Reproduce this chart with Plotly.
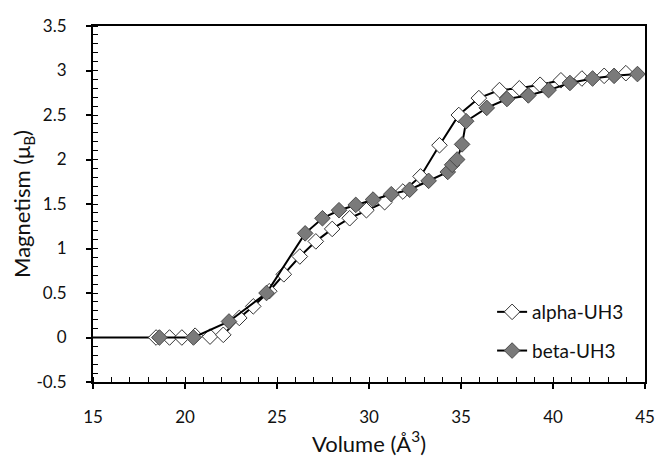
import plotly.graph_objects as go

# ---- data ----
alpha_x = [18.43, 19.16, 19.83, 20.55, 21.36, 22.08, 22.95, 23.71, 24.58, 25.37,
           26.24, 27.11, 28.00, 28.95, 29.86, 30.85, 31.84, 32.80, 33.83, 34.88,
           35.97, 37.09, 38.17, 39.30, 40.43, 41.57, 42.78, 43.96]
alpha_y = [0.00, 0.00, 0.00, 0.02, 0.01, 0.03, 0.22, 0.35, 0.52, 0.71,
           0.91, 1.08, 1.22, 1.34, 1.43, 1.52, 1.64, 1.81, 2.16, 2.50,
           2.69, 2.78, 2.80, 2.84, 2.89, 2.91, 2.94, 2.97]

beta_x = [18.61, 20.46, 22.39, 24.43, 26.53, 27.47, 28.37, 29.28, 30.22, 31.21,
          32.21, 33.24, 34.28, 34.52, 34.79, 35.06, 35.28, 36.40, 37.50, 38.66,
          39.76, 40.92, 42.15, 43.32, 44.59]
beta_y = [0.00, 0.00, 0.18, 0.50, 1.17, 1.34, 1.43, 1.49, 1.55, 1.61,
          1.66, 1.76, 1.86, 1.94, 2.00, 2.17, 2.43, 2.58, 2.68, 2.72,
          2.78, 2.86, 2.91, 2.94, 2.96]

baseline_x = [15, 18.43]
baseline_y = [0, 0]

x_ticks = [15, 20, 25, 30, 35, 40, 45]
x_ticktext = ["15", "20", "25", "30", "35", "40", "45"]
y_ticks = [-0.5, 0, 0.5, 1, 1.5, 2, 2.5, 3, 3.5]
y_ticktext = ["-0.5", "0", "0.5", "1", "1.5", "2", "2.5", "3", "3.5"]

FONT = "Lato, 'Open Sans', sans-serif"

fig = go.Figure()
fig.add_trace(go.Scatter(x=baseline_x, y=baseline_y, mode="lines",
                         line=dict(color="black", width=2), showlegend=False,
                         hoverinfo="skip"))
fig.add_trace(go.Scatter(x=alpha_x, y=alpha_y, mode="lines+markers", name="alpha-UH3",
                         legendgroup="a",
                         line=dict(color="black", width=2),
                         marker=dict(symbol="diamond", size=12, color="white",
                                     line=dict(color="#333333", width=1))))
fig.add_trace(go.Scatter(x=beta_x, y=beta_y, mode="lines+markers", name="beta-UH3",
                         legendgroup="b",
                         line=dict(color="black", width=2),
                         marker=dict(symbol="diamond", size=12, color="#7a7a7a",
                                     line=dict(color="#4a4a4a", width=1))))

axis_common = dict(showgrid=False, zeroline=False, showline=True, linecolor="black",
                   linewidth=2, mirror=True, ticks="outside", ticklen=5, tickwidth=1.5,
                   tickcolor="black", ticklabeloverflow="allow",
                   tickfont=dict(family=FONT, size=17, color="#111"))

# the page body has an 8px margin, so the figure is sized/offset to compensate
fig.update_layout(
    width=660, height=449,
    paper_bgcolor="white", plot_bgcolor="white",
    margin=dict(l=85, r=23, t=7, b=75),
    font=dict(family=FONT, color="#111"),
    xaxis=dict(range=[15, 45], tickvals=x_ticks, ticktext=x_ticktext,
               ticklabelstandoff=14,
               title=dict(text="Volume (Å<sup>3</sup>)", font=dict(family=FONT, size=22), standoff=6),
               minor=dict(dtick=1, ticks="inside", ticklen=5, tickwidth=1, tickcolor="black"),
               **axis_common),
    yaxis=dict(range=[-0.5, 3.5], tickvals=y_ticks, ticktext=y_ticktext,
               ticklabelstandoff=16,
               title=dict(text="Magnetism (μ<sub>B</sub>)", font=dict(family=FONT, size=22), standoff=6),
               minor=dict(dtick=0.1, ticks="inside", ticklen=5, tickwidth=1, tickcolor="black"),
               **axis_common),
    xaxis2=dict(overlaying="x", range=[15, 45], tickvals=x_ticks, showticklabels=False,
                ticks="inside", ticklen=6, tickwidth=1.5, tickcolor="black",
                showgrid=False, zeroline=False, showline=False, side="bottom"),
    yaxis2=dict(overlaying="y", range=[-0.5, 3.5], tickvals=y_ticks, showticklabels=False,
                ticks="inside", ticklen=6, tickwidth=1.5, tickcolor="black",
                showgrid=False, zeroline=False, showline=False, side="left"),
    legend=dict(x=0.723, y=0.25, xanchor="left", yanchor="top",
                traceorder="grouped",
                bgcolor="rgba(0,0,0,0)", font=dict(family=FONT, size=19, color="#111"),
                tracegroupgap=11),
    showlegend=True,
)

fig.write_html("out.html")
